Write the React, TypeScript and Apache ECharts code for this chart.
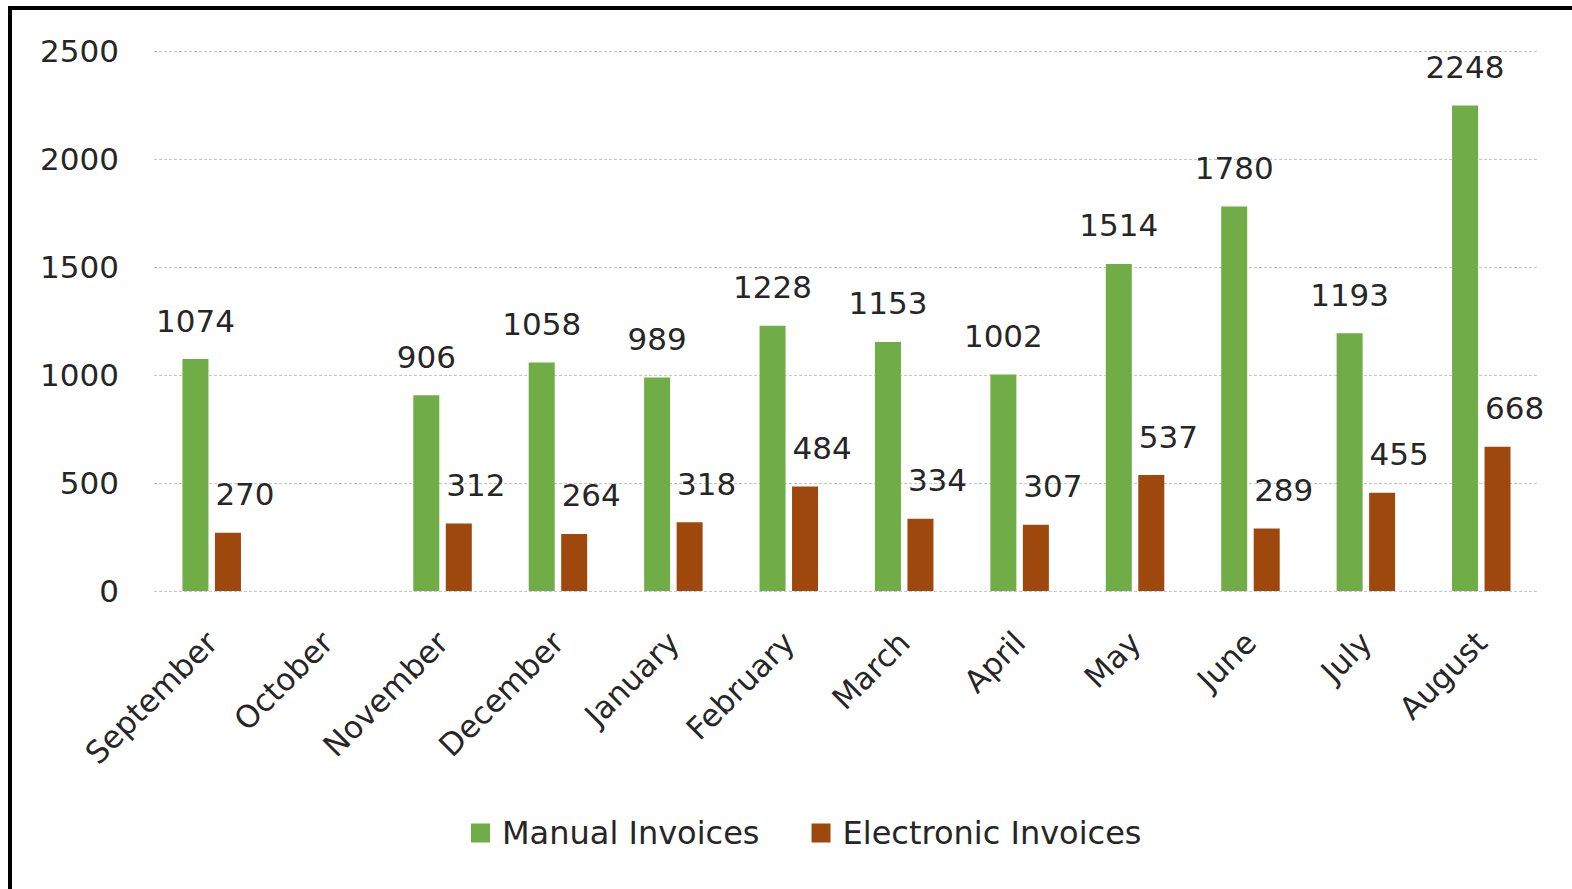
import React, { useEffect, useRef } from "react";
import * as echarts from "echarts";

const categories = ["September", "October", "November", "December", "January", "February", "March", "April", "May", "June", "July", "August"];
const manualInvoices: (number | null)[] = [1074, null, 906, 1058, 989, 1228, 1153, 1002, 1514, 1780, 1193, 2248];
const electronicInvoices: (number | null)[] = [270, null, 312, 264, 318, 484, 334, 307, 537, 289, 455, 668];
const yTicks = { min: 0, max: 2500, interval: 500 };

const FONT = "DejaVu Sans";
const TEXT = "#262626";

export default function App() {
  const ref = useRef<HTMLDivElement>(null);
  useEffect(() => {
    if (!ref.current) return;
    const chart = echarts.init(ref.current, null, { renderer: "svg" });
    chart.setOption({
      animation: false,
      backgroundColor: "#ffffff",
      textStyle: { fontFamily: FONT },
      graphic: [
        { type: "rect", shape: { x: 8, y: 6, width: 1564, height: 4 }, style: { fill: "#000" } },
        { type: "rect", shape: { x: 8, y: 6, width: 4, height: 883 }, style: { fill: "#000" } },
      ],
      grid: { left: 154, right: 33, top: 51, bottom: 298 },
      legend: {
        left: 466,
        top: 812,
        icon: "rect",
        itemWidth: 19,
        itemHeight: 19,
        itemGap: 52,
        textStyle: { fontFamily: FONT, fontSize: 32, color: TEXT, padding: [0, 0, 0, 7] },
        data: ["Manual Invoices", "Electronic Invoices"],
      },
      xAxis: {
        type: "category",
        data: categories,
        axisLine: { show: false },
        axisTick: { show: false },
        axisLabel: { rotate: 45, margin: 46, fontFamily: FONT, fontSize: 31, color: TEXT, interval: 0 },
      },
      yAxis: {
        type: "value",
        min: yTicks.min,
        max: yTicks.max,
        interval: yTicks.interval,
        axisLine: { show: false },
        axisTick: { show: false },
        axisLabel: { margin: 35, fontFamily: FONT, fontSize: 31, color: TEXT, formatter: (v: number) => String(v) },
        splitLine: { lineStyle: { color: "#c8c8c8", type: [3, 2], width: 1 } },
      },
      series: [
        {
          name: "Manual Invoices",
          type: "bar",
          data: manualInvoices,
          barWidth: 26,
          barGap: "25%",
          itemStyle: { color: "#70AD47" },
          label: { show: true, position: "top", distance: 23, fontFamily: FONT, fontSize: 31, lineHeight: 31, color: TEXT },
        },
        {
          name: "Electronic Invoices",
          type: "bar",
          data: electronicInvoices,
          barWidth: 26,
          itemStyle: { color: "#9E480E" },
          label: { show: true, position: "top", distance: 23, offset: [17, 0], fontFamily: FONT, fontSize: 31, lineHeight: 31, color: TEXT },
        },
      ],
    });
    return () => chart.dispose();
  }, []);
  return <div ref={ref} style={{ position: "fixed", left: 0, top: 0, width: 1572, height: 889 }} />;
}
